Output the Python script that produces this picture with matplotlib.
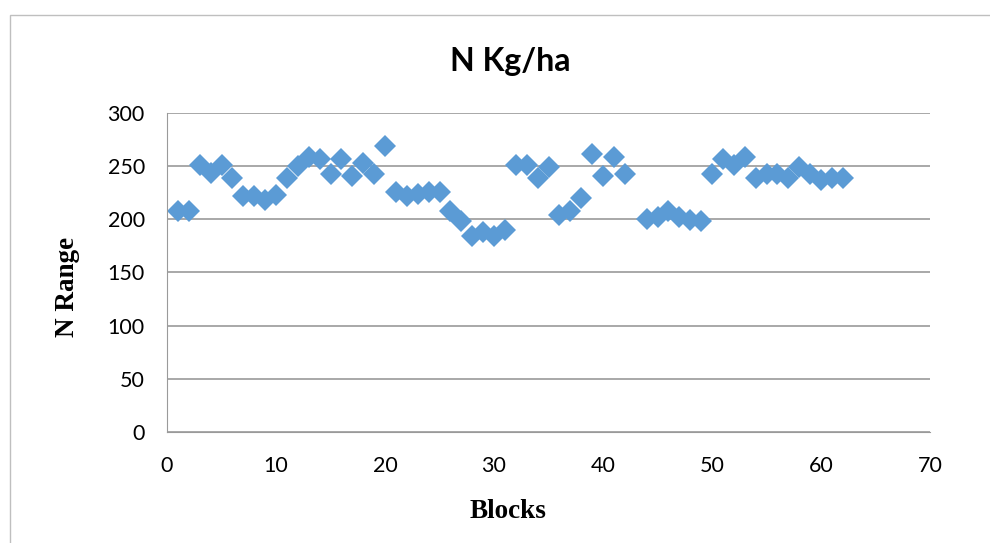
import matplotlib
matplotlib.use('Agg')
import matplotlib.pyplot as plt
from matplotlib.patches import Rectangle

# Blocks (block 43 has no value)
blocks = list(range(1, 43)) + list(range(44, 63))
n_kg_ha = [
    208, 208, 251, 244, 251, 239, 222, 222, 218, 223,
    239, 250, 259, 257, 243, 257, 241, 253, 243, 269,
    226, 222, 224, 226, 226, 208, 198, 184, 188, 184,
    190, 251, 251, 239, 249, 204, 208, 220, 261, 241,
    259, 243,
    200, 202, 208, 202, 199, 198, 243, 257, 251, 259,
    239, 243, 243, 239, 249, 243, 237, 239, 239,
]
x_ticks = [0, 10, 20, 30, 40, 50, 60, 70]
y_ticks = [0, 50, 100, 150, 200, 250, 300]

fig = plt.figure(figsize=(9.9, 5.43), dpi=100)
fig.patches.append(Rectangle((10 / 990, -0.1), 1.2, 1.1 - 15 / 543, transform=fig.transFigure,
                             fill=False, edgecolor='#BFBFBF', linewidth=1))

ax = fig.add_axes([167 / 990, 1 - 432 / 543, (930 - 167) / 990, (432 - 113) / 543])
ax.plot(blocks, n_kg_ha, linestyle='none', marker='D', markersize=11.5,
        color='#5B9BD5', markeredgewidth=0)

ax.set_xlim(0, 70)
ax.set_ylim(0, 300)
ax.set_xticks(x_ticks)
ax.set_yticks(y_ticks)
ax.tick_params(length=0, labelsize=15.5)
ax.tick_params(axis='x', pad=17)
ax.tick_params(axis='y', pad=16)
for lab in ax.get_xticklabels() + ax.get_yticklabels():
    lab.set_family('Lato')
ax.yaxis.grid(True, color='#9A9A9A', linewidth=1.2)
ax.set_axisbelow(True)
for s in ['top', 'right']:
    ax.spines[s].set_visible(False)
ax.spines['left'].set_color('#9A9A9A')
ax.spines['bottom'].set_color('#9A9A9A')

fig.text(510 / 990, 1 - 62 / 543, 'N Kg/ha', ha='center', va='center',
         fontsize=23, fontweight='bold', family='Lato')
fig.text(68 / 990, 1 - 287 / 543, 'N Range', ha='center', va='center', rotation=90,
         fontsize=19.5, fontweight='bold', family='Liberation Serif')
fig.text(508 / 990, 1 - 511 / 543, 'Blocks', ha='center', va='center',
         fontsize=19.5, fontweight='bold', family='Liberation Serif')

fig.savefig('out.png', dpi=100)
